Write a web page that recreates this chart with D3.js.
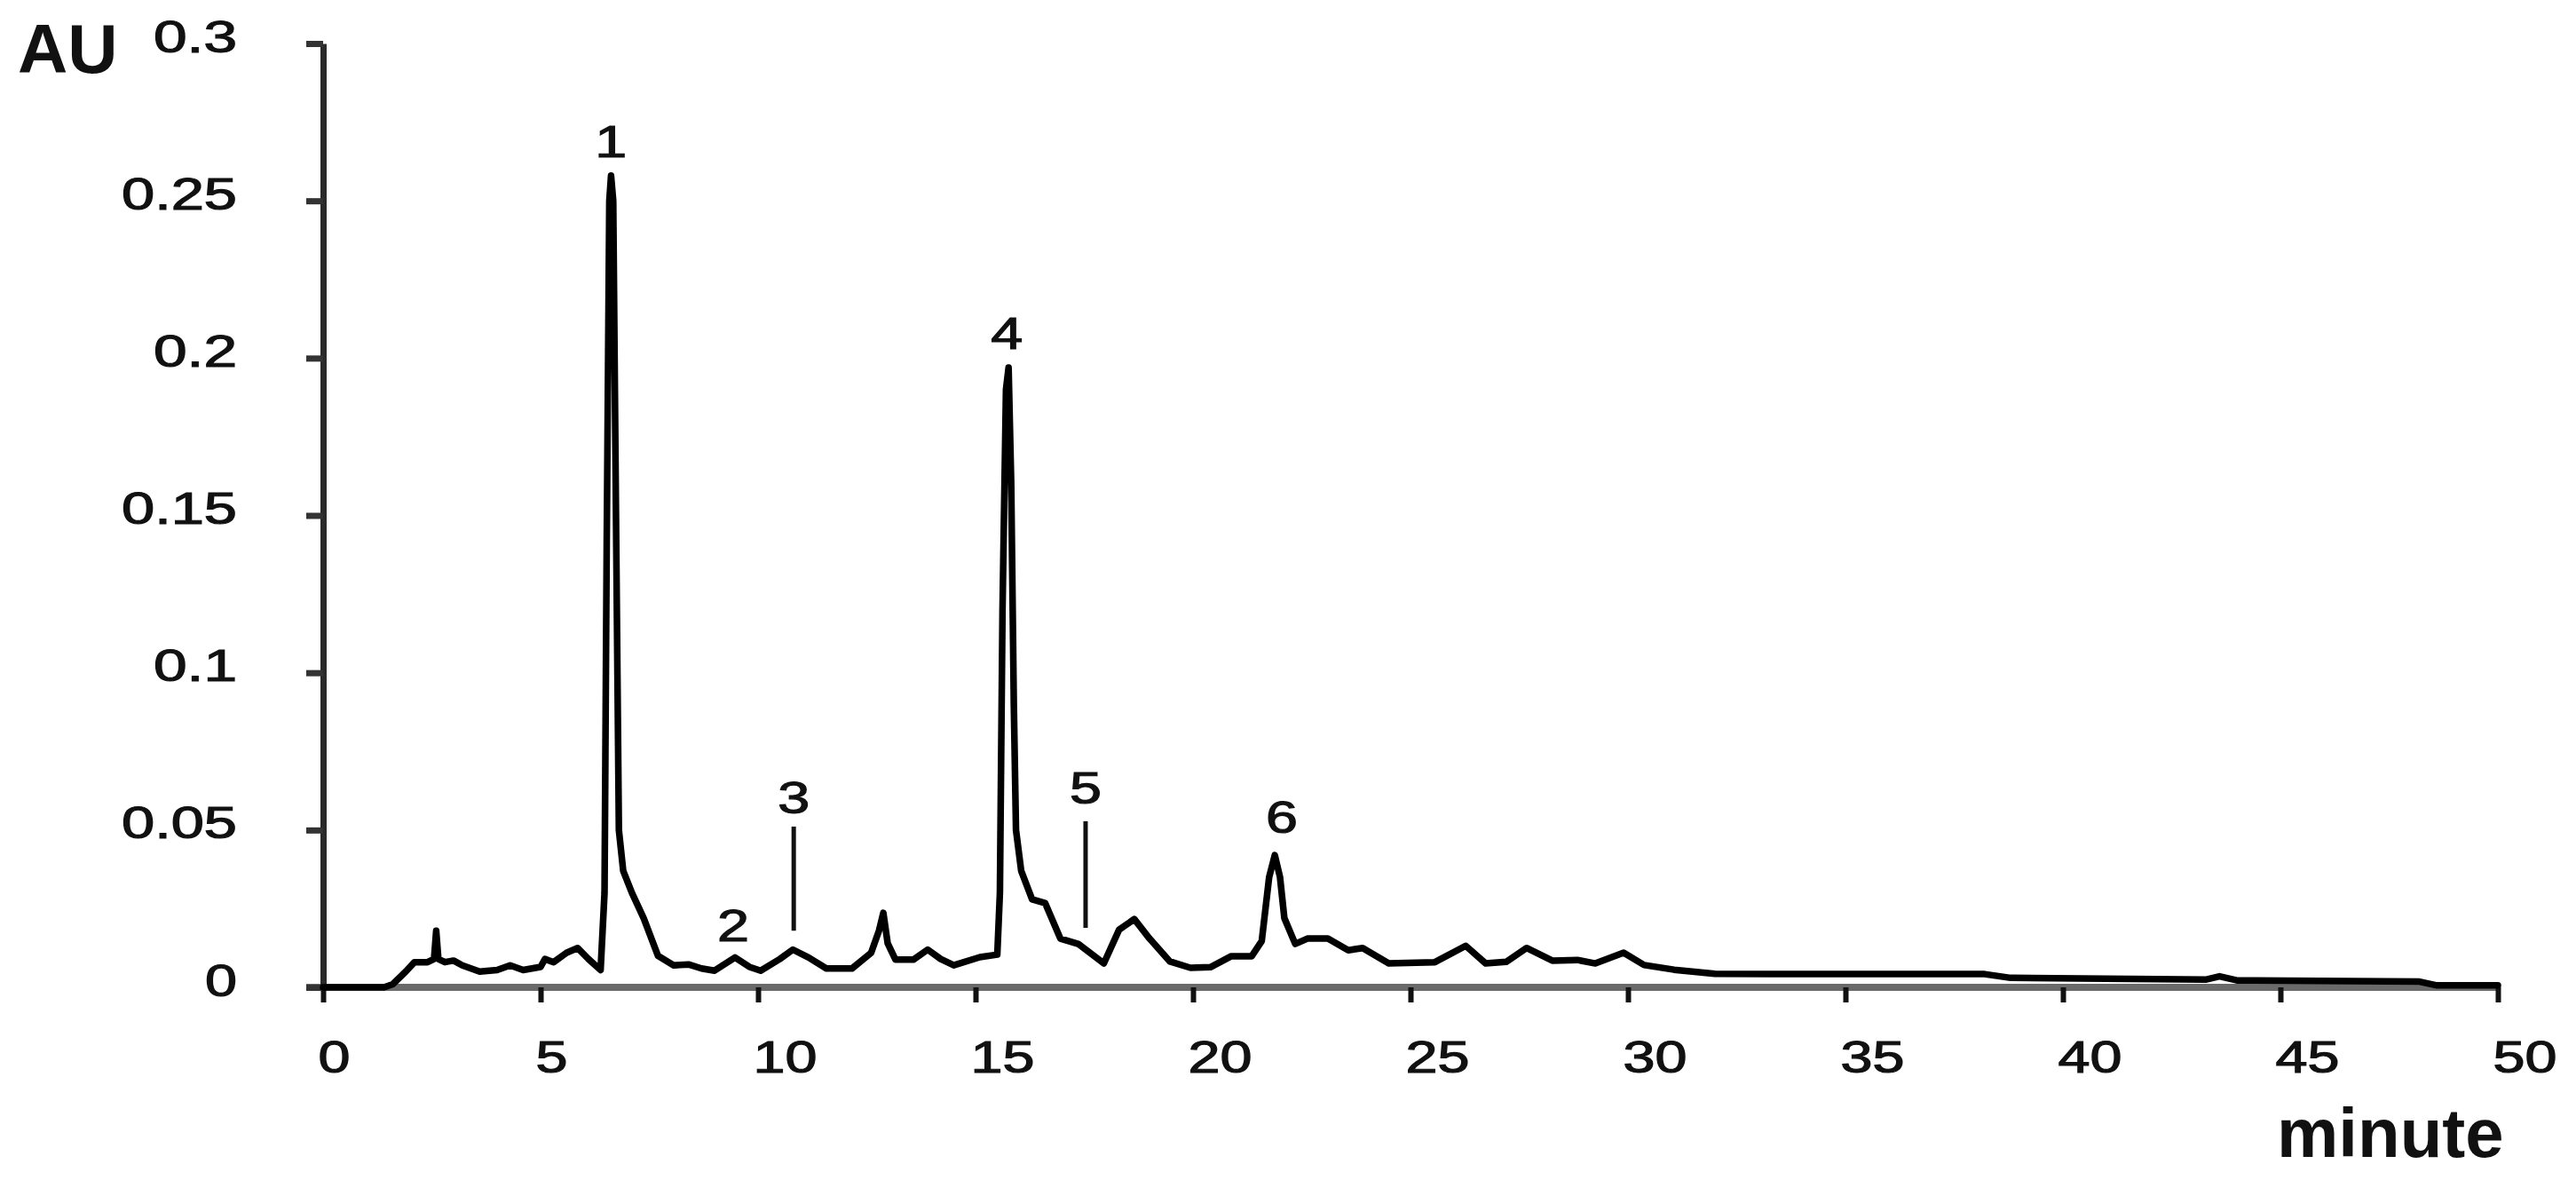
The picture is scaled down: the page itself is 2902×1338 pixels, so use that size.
<!DOCTYPE html>
<meta charset="utf-8">
<style>
body {
    margin: 0;
    background: #fff;
}
svg {
    display: block;
    font-family: "Liberation Sans", Arial, sans-serif;
}
.trace path {
    fill: none;
    stroke: #000;
    stroke-width: 7.5px;
    stroke-linejoin: round;
    stroke-linecap: round;
}
.axis text {
    font-size: 50px;
    fill: #111;
    stroke: #111;
    stroke-width: 1.2px;
}
.axis line {
    stroke: #111;
}
.x-axis line {
    stroke-width: 6px;
}
.y-axis line {
    stroke-width: 7px;
    stroke: #333;
}
.y-axis .domain {
    stroke: #2a2a2a;
    stroke-width: 7px;
}
.baseline {
    stroke: #6a6a6a;
    stroke-width: 8px;
}
.peak-labels text {
    font-size: 50px;
    fill: #111;
    stroke: #111;
    stroke-width: 1.2px;
    text-anchor: middle;
}
.markers line {
    stroke: #111;
    stroke-width: 5px;
}
.title {
    font-size: 78px;
    font-weight: bold;
    fill: #111;
}
</style>

<svg id="chromatogram" width="2902" height="1338"></svg>

<script src="https://d3js.org/d3.v7.min.js"></script>
<script>
    // retention time (minute) and absorbance (AU)
    var times = [
        0, 1.4, 1.6, 1.9, 2.1, 2.4, 2.55, 2.6, 2.65, 2.8, 3.0, 3.2, 3.6, 4.0, 4.3, 4.6,
        5.0, 5.1, 5.3, 5.6, 5.85, 6.1, 6.38, 6.47, 6.52, 6.58, 6.62, 6.67, 6.74, 6.8,
        6.9, 7.1, 7.37, 7.7, 8.06, 8.4, 8.7, 9.0, 9.47, 9.8, 10.06, 10.5, 10.8, 11.16,
        11.57, 12.16, 12.6, 12.78, 12.88, 12.98, 13.16, 13.57, 13.9, 14.2, 14.5, 15.1,
        15.5, 15.56, 15.62, 15.7, 15.76, 15.82, 15.88, 15.93, 16.05, 16.3, 16.6, 16.95,
        17.36, 17.95, 18.3, 18.65, 19.0, 19.47, 19.94, 20.4, 20.88, 21.35, 21.58, 21.75,
        21.88, 22.0, 22.1, 22.35, 22.63, 23.1, 23.57, 23.9, 24.5, 25.56, 26.27, 26.73,
        27.2, 27.67, 28.26, 28.84, 29.25, 29.9, 30.37, 31.06, 32.0, 33.3, 38.2, 38.8,
        43.3, 43.6, 44.0, 48.2, 48.6, 50
    ];
    var absorbance = [
        0, 0, 0.001, 0.005, 0.008, 0.008, 0.009, 0.018, 0.009, 0.008, 0.0085, 0.007, 0.005, 0.0055, 0.007, 0.0055,
        0.0065, 0.009, 0.008, 0.011, 0.0125, 0.009, 0.0055, 0.03, 0.14, 0.25, 0.258, 0.25, 0.14, 0.05,
        0.037, 0.03, 0.022, 0.01, 0.007, 0.0073, 0.006, 0.0053, 0.0095, 0.0065, 0.0053, 0.009, 0.012, 0.0095,
        0.006, 0.006, 0.011, 0.018, 0.0237, 0.014, 0.0088, 0.0088, 0.012, 0.009, 0.007, 0.0096,
        0.0104, 0.03, 0.12, 0.19, 0.197, 0.16, 0.09, 0.05, 0.037, 0.028, 0.0268, 0.0155,
        0.0138, 0.0076, 0.0183, 0.0217, 0.0155, 0.0082, 0.0062, 0.0064, 0.0099, 0.0099, 0.0147, 0.035,
        0.042, 0.035, 0.022, 0.0138, 0.0155, 0.0155, 0.0118, 0.0125, 0.0076, 0.008, 0.0132, 0.0076,
        0.0081, 0.0125, 0.0085, 0.0087, 0.0076, 0.011, 0.0071, 0.0056, 0.0043, 0.0042, 0.0042, 0.003,
        0.0025, 0.0035, 0.0022, 0.0018, 0.0006, 0.0006
    ];

    // numbered peaks: label position (time, absorbance at text baseline)
    var peakNames = ['1', '2', '3', '4', '5', '6'];
    var peakTimes = [6.62, 9.43, 10.82, 15.72, 17.53, 22.04];
    var peakLabelAU = [0.2639, 0.0147, 0.0553, 0.2029, 0.0584, 0.0491];

    // vertical marker lines for the small peaks 3 and 5
    var markerTimes = [10.82, 17.53];
    var markerTop = [0.0511, 0.0528];
    var markerBottom = [0.018, 0.0189];

    var xTicks = [0, 5, 10, 15, 20, 25, 30, 35, 40, 45, 50];
    var yTicks = [0, 0.05, 0.1, 0.15, 0.2, 0.25, 0.3];
    var yTickLabels = ['0', '0.05', '0.1', '0.15', '0.2', '0.25', '0.3'];

    var svg = d3.select("#chromatogram");

    var x = d3.scaleLinear()
              .domain([0, 50])
              .range([364, 2814]);
    var y = d3.scaleLinear()
              .domain([0, 0.3])
              .range([1112, 49]);

    // the numerals in the figure are set in a wide face: stretch them
    var wide = function(s) {
        var n = 0;
        for (var i = 0; i < s.length; i++) n += (s[i] === '.') ? 22 : 36;
        return n;
    };

    // x axis
    svg.append("line")
       .attr("class", "baseline")
       .attr("x1", x.range()[0] - 19)
       .attr("x2", x.range()[1])
       .attr("y1", y(0))
       .attr("y2", y(0));

    var xAxis = svg.append("g")
       .attr("class", "axis x-axis")
       .attr("transform", "translate(0," + y(0) + ")")
       .call(d3.axisBottom(x)
               .tickValues(xTicks)
               .tickSize(17)
               .tickFormat(function(d) { return d; }));
    xAxis.select(".domain").remove();
    xAxis.selectAll("text")
         .attr("text-anchor", "start")
         .attr("x", -6)
         .attr("y", 96)
         .attr("dy", null)
         .attr("lengthAdjust", "spacingAndGlyphs")
         .attr("textLength", function(d) { return wide(String(d)); });

    // y axis
    var yAxis = svg.append("g")
       .attr("class", "axis y-axis")
       .attr("transform", "translate(" + x(0) + ",0)")
       .call(d3.axisLeft(y)
               .tickValues(yTicks)
               .tickSize(19)
               .tickSizeOuter(0)
               .tickFormat(function(d, i) { return yTickLabels[i]; }));
    yAxis.selectAll("text")
         .attr("x", -97)
         .attr("dy", null)
         .attr("y", 9)
         .attr("lengthAdjust", "spacingAndGlyphs")
         .attr("textLength", function(d, i) { return wide(yTickLabels[i]); });

    // trace
    var trace = times.map(function(t, i) { return [t, absorbance[i]]; });

    var line = d3.line()
                 .x(function(d) { return x(d[0]); })
                 .y(function(d) { return y(d[1]); });

    svg.append("g")
       .attr("class", "trace")
       .append("path")
       .datum(trace)
       .attr("d", line);

    // peak markers and numbers
    svg.append("g")
       .attr("class", "markers")
       .selectAll("line")
       .data(markerTimes)
       .enter().append("line")
       .attr("x1", function(d) { return x(d); })
       .attr("x2", function(d) { return x(d); })
       .attr("y1", function(d, i) { return y(markerTop[i]); })
       .attr("y2", function(d, i) { return y(markerBottom[i]); });

    svg.append("g")
       .attr("class", "peak-labels")
       .selectAll("text")
       .data(peakNames)
       .enter().append("text")
       .text(function(d) { return d; })
       .attr("x", function(d, i) { return x(peakTimes[i]); })
       .attr("y", function(d, i) { return y(peakLabelAU[i]); })
       .attr("lengthAdjust", "spacingAndGlyphs")
       .attr("textLength", 36);

    // axis titles
    svg.append("text")
       .attr("class", "title")
       .attr("x", 20)
       .attr("y", 82)
       .text("AU");

    svg.append("text")
       .attr("class", "title")
       .attr("x", 2565)
       .attr("y", 1303)
       .text("minute");
</script>
